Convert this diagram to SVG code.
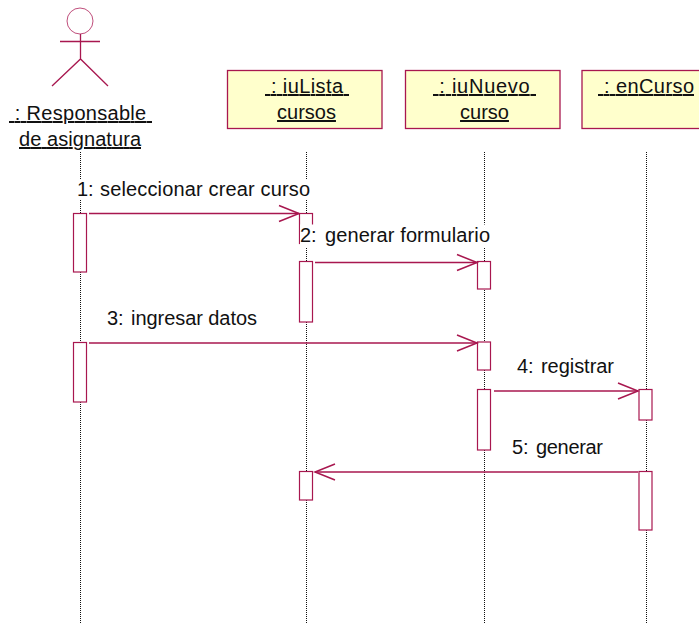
<svg xmlns="http://www.w3.org/2000/svg" width="699" height="624" viewBox="0 0 699 624">
<style>
text{font-family:"Liberation Sans",Arial,sans-serif;font-size:20px;fill:#111;white-space:pre}
.u{text-decoration:underline;text-anchor:middle}
.s{fill:none;stroke:#a8174f;stroke-width:1.3}
.c{fill:none;stroke:#c04f7c;stroke-width:1}
.b{fill:#ffffcc;stroke:#a8174f;stroke-width:1.3}
.a{fill:#fff;stroke:#a8174f;stroke-width:1.2}
.l{fill:none;stroke:#111;stroke-width:1;stroke-dasharray:1 1}
.m{fill:#fff;stroke:none}
</style>
<defs>
<marker id="h" markerUnits="userSpaceOnUse" markerWidth="24" markerHeight="20" refX="21" refY="10" orient="auto-start-reverse"><path d="M1 2 L21 10 L1 18" fill="none" stroke="#a8174f" stroke-width="1.5"/></marker>
</defs>
<g id="lifelines">
<path class="l" d="M80.500 152V624M306.500 152V624M484.500 152V624M646.500 152V624"/>
</g>
<g id="actor">
<circle class="c" cx="80" cy="21" r="13"/>
<path class="s" d="M80.500 34V59M60 41.500H100M52 86L80.500 59L108 86"/>
<text class="u" x="80.500" y="120" textLength="143"> : Responsable </text>
<text class="u" x="80" y="146" textLength="122">de asignatura</text>
</g>
<g id="iuLista">
<rect class="b" x="227.500" y="70.500" width="154.500" height="58"/>
<text class="u" x="307" y="93" textLength="84"> : iuLista </text>
<text class="u" x="306.500" y="119">cursos</text>
</g>
<g id="iuNuevo">
<rect class="b" x="405.500" y="70.500" width="154.500" height="58"/>
<text class="u" x="484.500" y="93" textLength="103"> : iuNuevo </text>
<text class="u" x="484.500" y="119">curso</text>
</g>
<g id="enCurso">
<rect class="b" x="582" y="70.500" width="125" height="58"/>
<text class="u" x="646" y="93" textLength="96"> : enCurso</text>
</g>
<g id="activations">
<rect class="a" x="73.500" y="213.500" width="13" height="58.500"/>
<rect class="a" x="299.500" y="213.500" width="13" height="30"/>
<rect class="a" x="299.500" y="261.500" width="13" height="60.500"/>
<rect class="a" x="477.500" y="261.500" width="13" height="27.500"/>
<rect class="a" x="73.500" y="342.500" width="13" height="59.500"/>
<rect class="a" x="477.500" y="342" width="13" height="28"/>
<rect class="a" x="477.500" y="389.500" width="13" height="60.500"/>
<rect class="a" x="639" y="389.500" width="13" height="30.500"/>
<rect class="a" x="639" y="471.500" width="13" height="58.500"/>
<rect class="a" x="299.500" y="471.500" width="13" height="28.500"/>
</g>
<g id="connectors">
<path class="s" marker-end="url(#h)" d="M89 213.500H299"/>
<path class="s" marker-end="url(#h)" d="M315 262.500H477"/>
<path class="s" marker-end="url(#h)" d="M89 343H477"/>
<path class="s" marker-end="url(#h)" d="M494 391H638"/>
<path class="s" marker-end="url(#h)" d="M638 472H315"/>
</g>
<g id="labels">
<rect class="m" x="76" y="179" width="235" height="21"/>
<rect class="m" x="300" y="224.500" width="190" height="22.500"/>
<text x="77" y="196">1:<tspan x="100" textLength="210">seleccionar crear curso</tspan></text>
<text x="300" y="242">2:<tspan x="325" textLength="165">generar formulario</tspan></text>
<text x="107" y="325">3:<tspan x="131" textLength="126">ingresar datos</tspan></text>
<text x="517" y="373">4:<tspan x="541" textLength="73">registrar</tspan></text>
<text x="512" y="454">5:<tspan x="536" textLength="67">generar</tspan></text>
</g>
</svg>
